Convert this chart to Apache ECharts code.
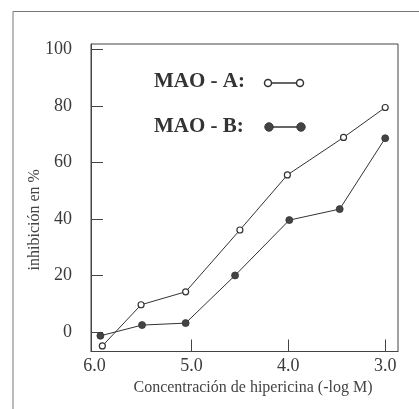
<!DOCTYPE html>
<html>
<head>
<meta charset="utf-8">
<script src="https://cdn.jsdelivr.net/npm/echarts@6/dist/echarts.min.js"></script>
<style>
html, body { margin: 0; padding: 0; background: #fff; }
#chart { width: 419px; height: 409px; }
</style>
</head>
<body>
<div id="chart"></div>
<script>
// concentracion (-log M) y % de inhibicion
const maoAX = [5.92, 5.52, 5.06, 4.50, 4.01, 3.43, 3.00]
const maoAY = [-5.0, 9.6, 14.2, 36.1, 55.6, 68.9, 79.5]
const maoBX = [5.94, 5.51, 5.06, 4.55, 3.99, 3.47, 3.00]
const maoBY = [-1.4, 2.4, 3.1, 20.0, 39.6, 43.5, 68.6]
const xTicks = [3, 4, 5, 6]
const yTicks = [0, 20, 40, 60, 80, 100]

const ink = '#333'
const serif = 'Liberation Serif'

const pairs = (xs, ys) => xs.map((x, i) => [x, ys[i]])

const chart = echarts.init(document.getElementById('chart'))

chart.setOption({
    backgroundColor: '#fff',
    animation: false,
    grid: {
        left: 91,
        right: 21,
        top: 44,
        bottom: 57.5,
        show: true,
        borderColor: '#444',
        borderWidth: 1
    },
    xAxis: {
        type: 'value',
        inverse: true,
        min: 2.868,
        max: 6.037,
        name: 'Concentración de hipericina (-log M)',
        nameLocation: 'middle',
        nameGap: 28,
        nameMoveOverlap: false,
        nameTextStyle: { fontFamily: serif, fontSize: 16, color: '#444', padding: [0, 0, 0, 17] },
        axisLine: { onZero: false, lineStyle: { color: '#444' } },
        axisTick: { inside: true, length: 12, customValues: [3, 4, 5], lineStyle: { color: '#444' } },
        axisLabel: {
            customValues: xTicks,
            margin: 6,
            fontFamily: serif,
            fontSize: 18,
            color: '#3a3a3a',
            formatter: v => v.toFixed(1)
        },
        splitLine: { show: false }
    },
    yAxis: {
        type: 'value',
        min: -6.96,
        max: 102.0,
        name: 'inhibición en %',
        nameLocation: 'middle',
        nameGap: 48,
        nameMoveOverlap: false,
        nameRotate: 90,
        nameTextStyle: { fontFamily: serif, fontSize: 16, color: '#444', padding: [0, 44, 0, 0] },
        axisLine: { show: true, onZero: false, lineStyle: { color: '#444' } },
        axisTick: { show: true, inside: true, length: 12, customValues: yTicks, lineStyle: { color: '#444' } },
        axisLabel: {
            customValues: yTicks,
            margin: 19,
            fontFamily: serif,
            fontSize: 18,
            color: '#3a3a3a'
        },
        splitLine: { show: false }
    },
    graphic: [
        // marco exterior
        { type: 'polyline', silent: true, shape: { points: [[13, 409], [13, 11.5], [419, 11.5]] }, style: { stroke: '#777', lineWidth: 1, fill: null } },
        // leyenda
        { type: 'text', left: 154, top: 71, style: { text: 'MAO - A:', font: 'bold 21px "Liberation Serif"', fill: '#333' } },
        { type: 'text', left: 154, top: 116, style: { text: 'MAO - B:', font: 'bold 21px "Liberation Serif"', fill: '#333' } },
        { type: 'line', shape: { x1: 268, y1: 83, x2: 300, y2: 83 }, style: { stroke: ink, lineWidth: 1.5 } },
        { type: 'circle', shape: { cx: 268, cy: 83, r: 3.5 }, style: { fill: '#fff', stroke: ink, lineWidth: 1.5 } },
        { type: 'circle', shape: { cx: 300, cy: 83, r: 3.5 }, style: { fill: '#fff', stroke: ink, lineWidth: 1.5 } },
        { type: 'line', shape: { x1: 269, y1: 127, x2: 301, y2: 127 }, style: { stroke: ink, lineWidth: 1.5 } },
        { type: 'circle', shape: { cx: 269, cy: 127, r: 4.2 }, style: { fill: '#444', stroke: ink, lineWidth: 1 } },
        { type: 'circle', shape: { cx: 301, cy: 127, r: 4.2 }, style: { fill: '#444', stroke: ink, lineWidth: 1 } }
    ],
    series: [
        {
            name: 'MAO - A',
            type: 'line',
            data: pairs(maoAX, maoAY),
            symbol: 'circle',
            symbolSize: 6,
            lineStyle: { color: ink, width: 1 },
            itemStyle: { color: '#fff', borderColor: ink, borderWidth: 1.2 },
            z: 3
        },
        {
            name: 'MAO - B',
            type: 'line',
            data: pairs(maoBX, maoBY),
            symbol: 'circle',
            symbolSize: 7,
            lineStyle: { color: ink, width: 1 },
            itemStyle: { color: '#444', borderColor: ink, borderWidth: 0.8 },
            z: 2
        }
    ]
})
</script>
</body>
</html>
